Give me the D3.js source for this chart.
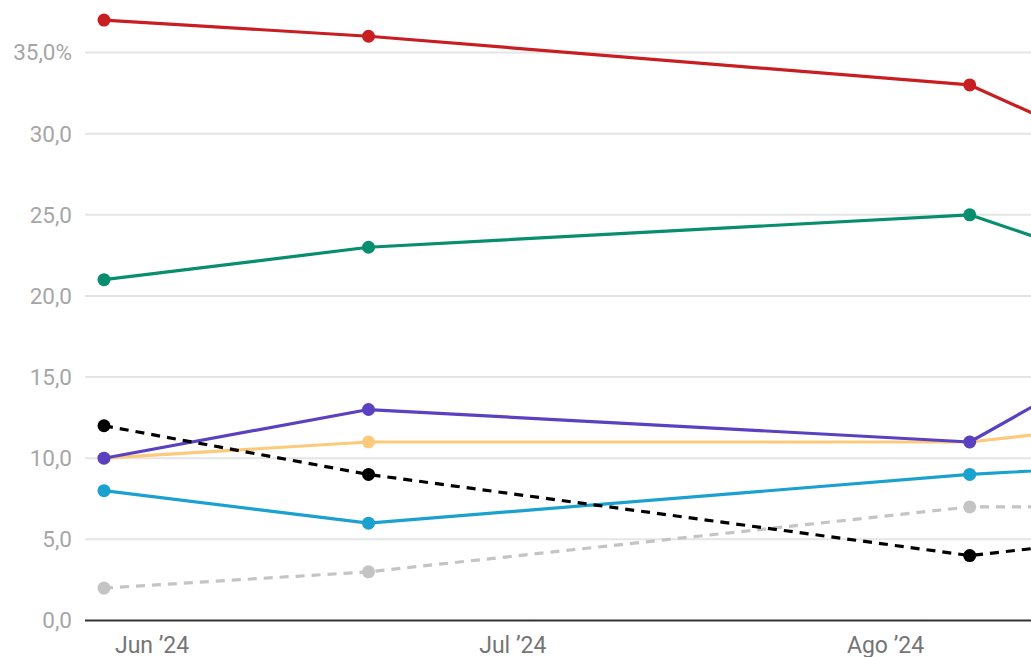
<!DOCTYPE html>
<html><head><meta charset="utf-8">
<script src="https://cdn.jsdelivr.net/npm/d3@7"></script>
<style>
html,body{margin:0;padding:0;background:#fff;overflow:hidden}
text{font-family:Roboto,"Noto Sans",sans-serif}
</style></head>
<body>
<svg id="c" width="1031" height="657"></svg>
<script>
const dates = ["2024-05-28","2024-06-19","2024-08-08","2024-08-20"];
const yTicks = [0,5,10,15,20,25,30,35];
const xTickDates = ["2024-06-01","2024-07-01","2024-08-01"];
const xTickLabels = ["Jun \u201924","Jul \u201924","Ago \u201924"];
const seriesNames = ["gray","blue","yellow","purple","green","red","black"];
const gray   = [2, 3, 7, 7];
const blue   = [8, 6, 9, 9.5];
const yellow = [10, 11, 11, 12];
const purple = [10, 13, 11, 16];
const green  = [21, 23, 25, 22];
const red    = [37, 36, 33, 29];
const black  = [12, 9, 4, 5];

const styles = {
  gray:{color:"#c4c4c4",dash:"9,7"},
  blue:{color:"#1aa1d0",dash:null},
  yellow:{color:"#fdc97a",dash:null},
  purple:{color:"#5a41c2",dash:null},
  green:{color:"#068e6e",dash:null},
  red:{color:"#c81e22",dash:null},
  black:{color:"#000000",dash:"9,7"}
};
const values = {gray,blue,yellow,purple,green,red,black};

const parse = d3.utcParse("%Y-%m-%d");
const svg = d3.select("#c");
const x = d3.scaleUtc().domain([parse("2024-05-28"), parse("2024-08-20")]).range([104, 1114]);
const y = d3.scaleLinear().domain([0,35]).range([620.5,52.5]);
const left = 85, right = 1031;

// grid
svg.append("g").selectAll("line").data(yTicks.filter(t=>t>0)).join("line")
  .attr("x1",left).attr("x2",right)
  .attr("y1",d=>y(d)).attr("y2",d=>y(d))
  .attr("stroke","#e5e5e5").attr("stroke-width",2);

// y labels
svg.append("g").selectAll("text").data(yTicks).join("text")
  .attr("x",72).attr("y",d=>y(d)).attr("dy","0.35em")
  .attr("text-anchor","end").attr("fill","#a6a6a6").attr("font-size",22.5)
  .text(d=> d3.format(".1f")(d).replace(".",",") + (d===35?"%":""));

// axis line
svg.append("line").attr("x1",left).attr("x2",right).attr("y1",y(0)).attr("y2",y(0))
  .attr("stroke","#333").attr("stroke-width",2);

// x labels
svg.append("g").selectAll("text").data(xTickDates).join("text")
  .attr("x",d=>x(parse(d))).attr("y",653)
  .attr("text-anchor","middle").attr("fill","#757575").attr("font-size",23)
  .text((d,i)=>xTickLabels[i]);

const line = d3.line().x((d,i)=>x(parse(dates[i]))).y(d=>y(d));

seriesNames.forEach(name=>{
  const s = styles[name], v = values[name];
  const g = svg.append("g");
  g.append("path").datum(v).attr("d",line).attr("fill","none")
    .attr("stroke",s.color).attr("stroke-width",3.2)
    .attr("stroke-dasharray",s.dash).attr("stroke-linejoin","round");
  g.selectAll("circle").data(v).join("circle")
    .attr("cx",(d,i)=>x(parse(dates[i]))).attr("cy",d=>y(d)).attr("r",6.5)
    .attr("fill",s.color);
});
</script>
</body></html>
